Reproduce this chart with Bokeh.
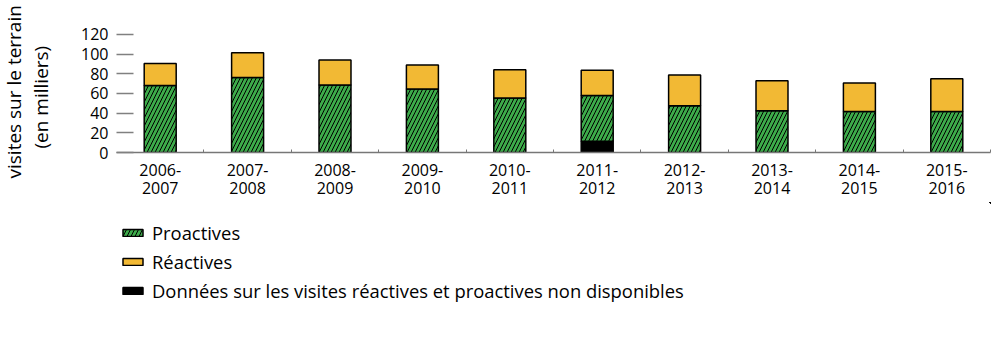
from bokeh.plotting import figure
from bokeh.layouts import column
from bokeh.models import (ColumnDataSource, Range1d, FixedTicker, Legend, LegendItem, Title)
from bokeh.embed import file_html
from bokeh.resources import INLINE

categories = ["2006-2007", "2007-2008", "2008-2009", "2009-2010", "2010-2011",
              "2011-2012", "2012-2013", "2013-2014", "2014-2015", "2015-2016"]
non_disponibles = [0, 0, 0, 0, 0, 11.5, 0, 0, 0, 0]
proactives = [68, 76.3, 68.5, 64.5, 55.5, 46.5, 47.5, 42.4, 41.8, 41.8]
reactives = [22.5, 25.1, 25.5, 24.4, 28.6, 25.6, 31.2, 30.5, 28.8, 33.2]
y_ticks = [0, 20, 40, 60, 80, 100, 120]
legend_labels = ["Proactives", "Réactives",
                 "Données sur les visites réactives et proactives non disponibles"]

FONT = "Open Sans"
GREEN = "#3DAB4A"
ORANGE = "#F2B934"
HATCH = dict(hatch_pattern="/", hatch_color="black", hatch_scale=8, hatch_weight=1.0)

xs = list(range(len(categories)))
src = ColumnDataSource(dict(x=xs, nd=non_disponibles, pro=proactives, rea=reactives))

p = figure(width=1000, height=202, output_backend="svg", toolbar_location=None,
           x_range=Range1d(-0.5, len(categories) - 0.5), y_range=Range1d(0, 134.2),
           min_border_left=116, min_border_right=10, min_border_top=20,
           min_border_bottom=48)
p.outline_line_color = None
p.grid.visible = False

r = p.vbar_stack(["nd", "pro", "rea"], x="x", width=0.366, source=src,
                 fill_color=["black", GREEN, ORANGE], line_color="black", line_width=1.5)
for k, v in HATCH.items():
    setattr(r[1].glyph, k, v)

# x axis
xa = p.xaxis[0]
xa.ticker = FixedTicker(ticks=xs, minor_ticks=[i + 0.5 for i in xs])
xa.major_label_overrides = {i: c.replace("-", "-\n") for i, c in zip(xs, categories)}
xa.major_tick_in = 0
xa.major_tick_out = 0
xa.minor_tick_in = 3
xa.minor_tick_out = 0
xa.minor_tick_line_color = "#777777"
xa.axis_line_color = "#777777"
xa.axis_line_width = 1.5
xa.major_label_text_font = FONT
xa.major_label_text_font_size = "16px"
xa.major_label_text_color = "black"
xa.major_label_text_line_height = 0.85
xa.major_label_standoff = 6

# y axis
ya = p.yaxis[0]
ya.ticker = FixedTicker(ticks=y_ticks)
ya.axis_line_color = None
ya.major_tick_in = 17
ya.major_tick_out = 0
ya.major_tick_line_color = "#808080"
ya.major_tick_line_width = 1.5
ya.minor_tick_line_color = None
ya.major_label_text_font = FONT
ya.major_label_text_font_size = "16px"
ya.major_label_text_color = "black"
ya.major_label_standoff = 8

t2 = Title(text="(en milliers)", align="left", offset=4, standoff=50,
           text_font=FONT, text_font_size="19px", text_font_style="normal",
           text_color="black")
t1 = Title(text="visites sur le terrain", align="left", offset=-26, standoff=-52,
           text_font=FONT, text_font_size="19px", text_font_style="normal",
           text_color="black")
p.add_layout(t2, "left")
p.add_layout(t1, "left")

# legend figure (its renderers sit outside its ranges, only the legend shows)
q = figure(width=1000, height=149, output_backend="svg", toolbar_location=None,
           x_range=Range1d(-40, -39), y_range=Range1d(-400, -399),
           x_axis_type=None, y_axis_type=None, min_border=0)
q.outline_line_color = None
q.grid.visible = False
lr_pro = q.vbar(x="x", top="pro", width=0.1, source=src, fill_color=GREEN,
                line_color="black", line_width=1.5, **HATCH)
lr_rea = q.vbar(x="x", top="rea", width=0.1, source=src, fill_color=ORANGE,
                line_color="black", line_width=1.5)
lr_nd = q.vbar(x="x", top="nd", width=0.1, source=src, fill_color="black",
               line_color="black", line_width=1.5)

legend = Legend(items=[
    LegendItem(label=legend_labels[0], renderers=[lr_pro]),
    LegendItem(label=legend_labels[1], renderers=[lr_rea]),
    LegendItem(label=legend_labels[2], renderers=[lr_nd]),
], location=(4, 48), orientation="vertical")
legend.border_line_color = None
legend.background_fill_alpha = 0
legend.label_text_font = FONT
legend.label_text_font_size = "18.4px"
legend.label_text_color = "black"
legend.glyph_width = 25
legend.glyph_height = 9
legend.label_height = 22
legend.spacing = 4
legend.padding = 4
legend.margin = 0
legend.label_standoff = 7
q.add_layout(legend, "center")

open("out.html", "w").write(file_html(column(p, q, spacing=0), INLINE))
